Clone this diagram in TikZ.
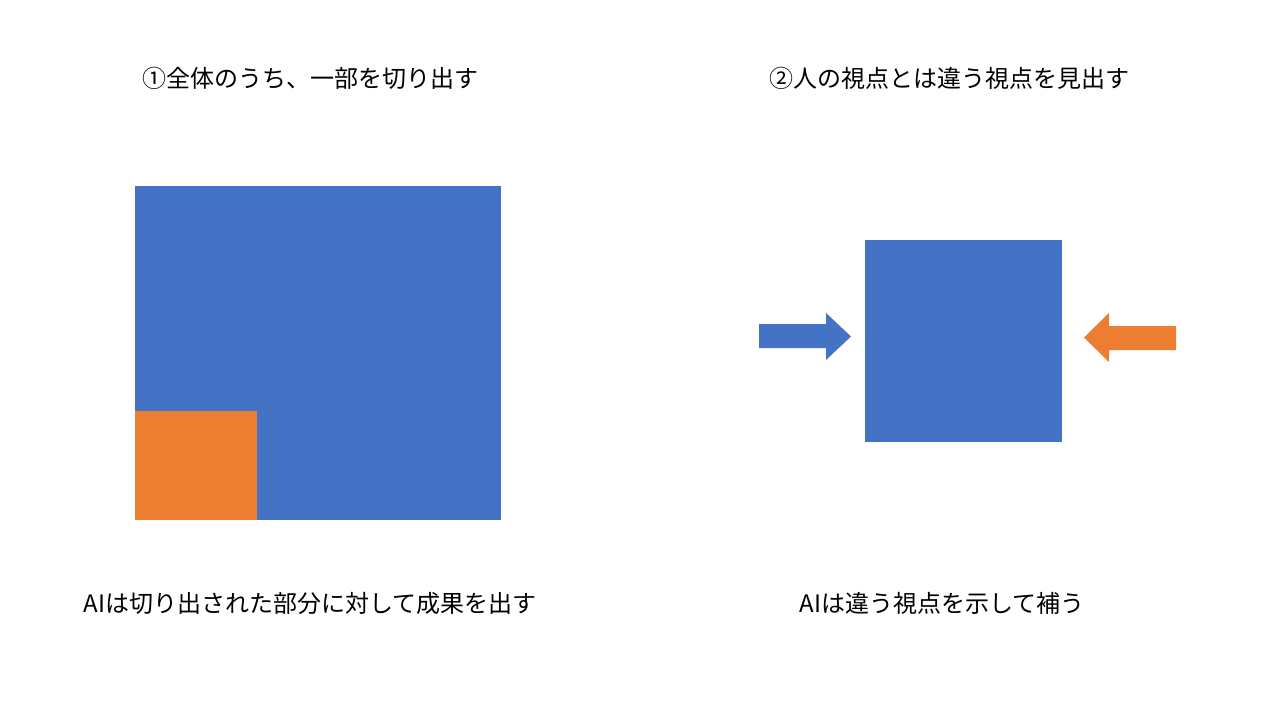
\documentclass[tikz,border=0pt]{standalone}
\usepackage{fontspec}
\setmainfont{Noto Sans CJK JP}
\definecolor{boxblue}{HTML}{4472C4}
\definecolor{boxorange}{HTML}{ED7D31}

\begin{document}
\begin{tikzpicture}[x=1pt,y=-1pt,
    caption/.style={font=\fontsize{24}{28}\selectfont, inner sep=0pt, anchor=center}]
\useasboundingbox (0,0) rectangle (1280,720);
% left: the whole and the part cut out of it
\fill[boxblue] (135,186) rectangle (501,520);
\fill[boxorange] (135,411) rectangle (257,520);
% right: the square and two viewpoints
\fill[boxblue] (865,240) rectangle (1062,442);
\fill[boxblue] (759,324)--(826,324)--(826,313)--(851,336.5)--(826,360)--(826,348)--(759,348)--cycle;
\fill[boxorange] (1176,326)--(1109,326)--(1109,313)--(1084,337.5)--(1109,362)--(1109,350)--(1176,350)--cycle;
% texts
\node[caption] (titleA) at (310,78) {①全体のうち、一部を切り出す};
\node[caption] (titleB) at (949,78) {②人の視点とは違う視点を見出す};
\node[caption] (noteA) at (310,603) {AIは切り出された部分に対して成果を出す};
\node[caption] (noteB) at (942,603) {AIは違う視点を示して補う};
\end{tikzpicture}
\end{document}
